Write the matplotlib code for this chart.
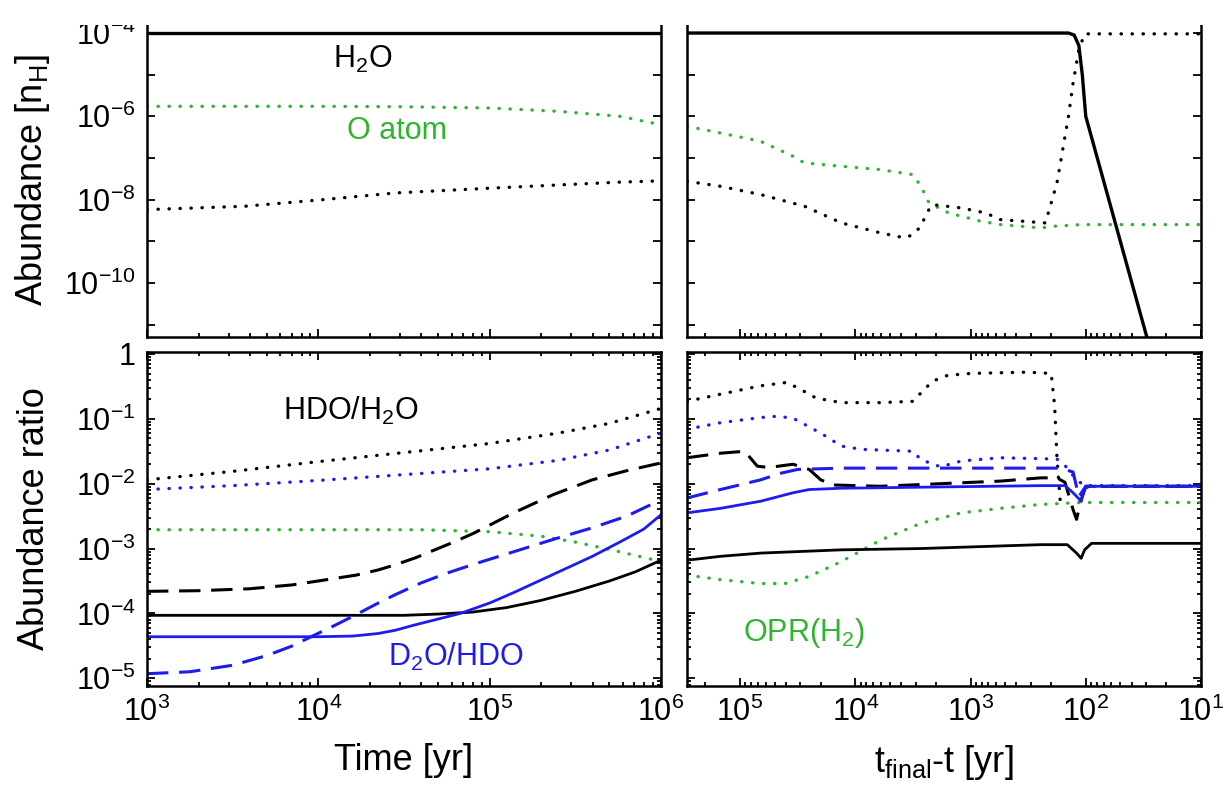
"""
Four-panel water deuteration plot: abundances (top) and abundance ratios
(bottom) versus time (left) and t_final - t (right).
"""

import numpy as np
import matplotlib
matplotlib.use('Agg')
import matplotlib.pyplot as plt
from matplotlib.patches import Rectangle
from matplotlib.ticker import LogLocator, NullFormatter, FixedLocator, FuncFormatter

plt.rcParams['font.family'] = ['Liberation Sans', 'DejaVu Sans']
plt.rcParams['mathtext.fontset'] = 'custom'
plt.rcParams['mathtext.rm'] = 'Liberation Sans'
plt.rcParams['mathtext.it'] = 'Liberation Sans:italic'
plt.rcParams['mathtext.default'] = 'regular'

# ============================================================
# Data (log10 values)
# ============================================================
# --- top left: abundance vs time ---
tl_h2o_x = [3.0, 6.0]
tl_h2o_y = [-4.0, -4.0]
tl_o_x = [3.0, 4.0, 4.5, 5.0, 5.4, 5.76, 6.0]
tl_o_y = [-5.76, -5.76, -5.77, -5.80, -5.88, -6.00, -6.20]
tl_hdo_x = [3.0, 3.57, 4.03, 4.45, 5.03, 5.76, 6.0]
tl_hdo_y = [-8.24, -8.16, -8.00, -7.84, -7.72, -7.58, -7.55]

# --- top right: abundance vs t_final - t ---
tr_h2o_x = [5.46, 2.15, 2.10, 2.06, 2.03, 2.00, 1.47, 1.40]
tr_h2o_y = [-4.0, -4.0, -4.05, -4.3, -5.0, -6.0, -11.3, -12.0]
tr_o_x = [5.46, 5.17, 4.82, 4.54, 4.44, 4.12, 3.78, 3.50, 3.43, 3.36,
          3.19, 2.91, 2.74, 2.39, 2.28, 2.04, 1.0]
tr_o_y = [-6.24, -6.40, -6.60, -6.96, -7.12, -7.20, -7.28, -7.40, -7.68,
          -8.08, -8.32, -8.52, -8.60, -8.68, -8.64, -8.60, -8.60]
tr_hdo_x = [5.46, 5.17, 4.82, 4.44, 4.12, 3.78, 3.57, 3.50, 3.43, 3.38,
            3.33, 3.08, 2.87, 2.74, 2.35, 2.25, 2.20, 2.15, 2.11, 2.06,
            2.01, 1.0]
tr_hdo_y = [-7.56, -7.68, -7.88, -8.16, -8.56, -8.80, -8.92, -8.84, -8.64,
            -8.32, -8.12, -8.20, -8.32, -8.48, -8.56, -7.60, -6.80, -6.00,
            -5.20, -4.40, -4.02, -4.02]

# --- bottom left: abundance ratios vs time ---
bl_hdo_h2o_gas_x = [3.0, 3.5, 4.0, 4.5, 5.0, 5.4, 5.7, 6.0]
bl_hdo_h2o_gas_y = [-1.94, -1.81, -1.66, -1.52, -1.38, -1.22, -1.07, -0.84]
bl_d2o_hdo_gas_x = [3.0, 3.5, 4.0, 4.5, 5.0, 5.4, 5.7, 6.0]
bl_d2o_hdo_gas_y = [-2.09, -2.03, -1.95, -1.86, -1.77, -1.64, -1.48, -1.22]
bl_opr_x = [3.0, 4.6, 5.0, 5.3, 5.5, 5.76, 6.0]
bl_opr_y = [-2.71, -2.71, -2.74, -2.81, -2.90, -3.05, -3.20]
bl_hdo_h2o_ice_x = [3.0, 3.3, 3.6, 3.85, 4.0, 4.22, 4.35, 4.45, 4.57, 4.68,
                    4.8, 4.91, 5.14, 5.37, 5.6, 5.8, 6.0]
bl_hdo_h2o_ice_y = [-3.66, -3.65, -3.62, -3.56, -3.50, -3.41, -3.33, -3.25,
                    -3.14, -3.02, -2.89, -2.76, -2.45, -2.17, -1.94, -1.80,
                    -1.68]
bl_hdo_h2o_dust_x = [3.0, 4.5, 4.7, 4.9, 5.1, 5.3, 5.5, 5.7, 5.85, 6.0]
bl_hdo_h2o_dust_y = [-4.03, -4.03, -4.01, -3.98, -3.91, -3.80, -3.66, -3.50,
                     -3.36, -3.18]
bl_d2o_hdo_dust_x = [3.0, 4.0, 4.2, 4.35, 4.45, 4.56, 4.68, 4.83, 5.0, 5.14,
                     5.37, 5.6, 5.76, 5.9, 6.0]
bl_d2o_hdo_dust_y = [-4.36, -4.36, -4.35, -4.31, -4.26, -4.18, -4.10, -4.00,
                     -3.84, -3.68, -3.40, -3.12, -2.90, -2.70, -2.48]
bl_d2o_hdo_ice_x = [3.0, 3.25, 3.5, 3.7, 3.85, 3.95, 4.1, 4.22, 4.35, 4.45,
                    4.6, 4.75, 4.91, 5.14, 5.37, 5.6, 5.8, 6.0]
bl_d2o_hdo_ice_y = [-4.93, -4.90, -4.80, -4.65, -4.50, -4.37, -4.18, -4.02,
                    -3.84, -3.71, -3.53, -3.38, -3.24, -3.05, -2.86, -2.68,
                    -2.50, -2.25]

# --- bottom right: abundance ratios vs t_final - t ---
br_hdo_h2o_gas_x = [5.46, 5.17, 4.82, 4.60, 4.50, 4.34, 4.12, 3.78, 3.50,
                    3.43, 3.33, 3.20, 3.00, 2.50, 2.30, 2.27, 2.25, 2.22]
br_hdo_h2o_gas_y = [-0.73, -0.62, -0.49, -0.44, -0.52, -0.68, -0.75, -0.75,
                    -0.73, -0.60, -0.42, -0.33, -0.30, -0.28, -0.30, -0.80,
                    -1.60, -2.30]
br_d2o_hdo_gas_x = [5.46, 5.17, 4.82, 4.68, 4.54, 4.30, 4.12, 3.95, 3.50,
                    3.43, 3.26, 3.08, 2.74, 2.25, 2.18, 2.08, 2.01, 1.0]
br_d2o_hdo_gas_y = [-1.16, -1.06, -0.98, -0.96, -0.99, -1.22, -1.42, -1.47,
                    -1.50, -1.63, -1.74, -1.65, -1.60, -1.62, -1.72, -1.94,
                    -2.03, -2.03]
br_hdo_h2o_ice_x = [5.46, 5.17, 4.96, 4.85, 4.75, 4.54, 4.40, 4.30, 4.19,
                    3.78, 2.74, 2.39, 2.25, 2.18, 2.11, 2.08, 2.04, 2.00, 1.0]
br_hdo_h2o_ice_y = [-1.60, -1.53, -1.50, -1.73, -1.75, -1.70, -1.78, -1.94,
                    -2.02, -2.04, -1.96, -1.91, -1.91, -1.98, -2.40, -2.55,
                    -2.25, -2.04, -2.04]
br_d2o_hdo_ice_x = [5.46, 5.17, 4.82, 4.65, 4.50, 4.12, 2.39, 2.22, 2.11,
                    2.06, 2.00, 1.0]
br_d2o_hdo_ice_y = [-2.22, -2.09, -1.94, -1.84, -1.78, -1.76, -1.76, -1.76,
                    -1.82, -2.20, -2.04, -2.04]
br_d2o_hdo_dust_x = [5.46, 5.17, 4.82, 4.54, 4.40, 4.12, 2.39, 2.18, 2.11,
                     2.04, 2.01, 1.97, 1.0]
br_d2o_hdo_dust_y = [-2.45, -2.38, -2.27, -2.14, -2.09, -2.07, -2.03, -2.03,
                     -2.14, -2.27, -2.08, -2.04, -2.04]
br_opr_x = [5.46, 5.17, 4.82, 4.61, 4.40, 4.12, 3.78, 3.43, 3.08, 2.74,
            2.39, 2.04, 1.0]
br_opr_y = [-3.41, -3.48, -3.54, -3.54, -3.43, -3.20, -2.87, -2.61, -2.45,
            -2.38, -2.32, -2.29, -2.29]
br_hdo_h2o_dust_x = [5.46, 5.17, 4.82, 4.12, 3.43, 2.39, 2.16, 2.08, 2.04,
                     2.01, 1.95, 1.0]
br_hdo_h2o_dust_y = [-3.18, -3.12, -3.07, -3.02, -3.00, -2.94, -2.94, -3.07,
                     -3.15, -3.02, -2.92, -2.92]

BLACK = 'black'
BLUE = '#1c1cf0'
GREEN = '#2db52d'

SOLID = dict(linestyle='-', linewidth=2.0, solid_joinstyle='round')
DASHED = dict(linestyle=(0, (7, 3.5)), linewidth=2.2)
DOTTED = dict(linestyle=(0, (0.1, 3.2)), linewidth=2.4,
              dash_capstyle='round')


def pl(ax, lx, ly, color, style):
    ax.plot(10 ** np.asarray(lx), 10 ** np.asarray(ly), color=color, **style)


def fmt_pow(v, pos=None):
    e = int(round(np.log10(v)))
    if e == 0:
        return '1'
    return r'$10^{%d}$' % e


def style_axes(ax):
    ax.set_xscale('log')
    ax.set_yscale('log')
    for sp in ax.spines.values():
        sp.set_linewidth(1.8)
    ax.tick_params(which='both', direction='in', top=True, right=True,
                   labelsize=22, width=1.3)
    ax.tick_params(which='major', length=6, pad=8)
    ax.tick_params(which='minor', length=3)
    ax.xaxis.set_major_locator(LogLocator(base=10, numticks=20))
    ax.xaxis.set_minor_locator(LogLocator(base=10, subs=np.arange(2, 10),
                                          numticks=20))
    ax.xaxis.set_major_formatter(FuncFormatter(fmt_pow))
    ax.xaxis.set_minor_formatter(NullFormatter())


def main():
    fig = plt.figure(figsize=(12.26, 7.86), dpi=100)
    ax_tl = fig.add_axes([0.1199, 0.5712, 0.4192, 0.3995])
    ax_tr = fig.add_axes([0.5604, 0.5712, 0.4192, 0.3995])
    ax_bl = fig.add_axes([0.1199, 0.1272, 0.4192, 0.4249])
    ax_br = fig.add_axes([0.5604, 0.1272, 0.4192, 0.4249])

    for ax in (ax_tl, ax_tr, ax_bl, ax_br):
        style_axes(ax)

    # ---- top left ----
    pl(ax_tl, tl_o_x, tl_o_y, GREEN, DOTTED)
    pl(ax_tl, tl_hdo_x, tl_hdo_y, BLACK, DOTTED)
    pl(ax_tl, tl_h2o_x, tl_h2o_y, BLACK, dict(SOLID, linewidth=2.4))

    # ---- top right ----
    pl(ax_tr, tr_o_x, tr_o_y, GREEN, DOTTED)
    pl(ax_tr, tr_hdo_x, tr_hdo_y, BLACK, DOTTED)
    pl(ax_tr, tr_h2o_x, tr_h2o_y, BLACK, dict(SOLID, linewidth=2.4))

    # ---- bottom left ----
    pl(ax_bl, bl_hdo_h2o_gas_x, bl_hdo_h2o_gas_y, BLACK, DOTTED)
    pl(ax_bl, bl_d2o_hdo_gas_x, bl_d2o_hdo_gas_y, BLUE, DOTTED)
    pl(ax_bl, bl_opr_x, bl_opr_y, GREEN, DOTTED)
    pl(ax_bl, bl_hdo_h2o_ice_x, bl_hdo_h2o_ice_y, BLACK, DASHED)
    pl(ax_bl, bl_hdo_h2o_dust_x, bl_hdo_h2o_dust_y, BLACK, SOLID)
    pl(ax_bl, bl_d2o_hdo_ice_x, bl_d2o_hdo_ice_y, BLUE, DASHED)
    pl(ax_bl, bl_d2o_hdo_dust_x, bl_d2o_hdo_dust_y, BLUE, SOLID)

    # ---- bottom right ----
    pl(ax_br, br_hdo_h2o_gas_x, br_hdo_h2o_gas_y, BLACK, DOTTED)
    pl(ax_br, br_d2o_hdo_gas_x, br_d2o_hdo_gas_y, BLUE, DOTTED)
    pl(ax_br, br_opr_x, br_opr_y, GREEN, DOTTED)
    pl(ax_br, br_hdo_h2o_ice_x, br_hdo_h2o_ice_y, BLACK, DASHED)
    pl(ax_br, br_d2o_hdo_ice_x, br_d2o_hdo_ice_y, BLUE, DASHED)
    pl(ax_br, br_hdo_h2o_dust_x, br_hdo_h2o_dust_y, BLACK, SOLID)
    pl(ax_br, br_d2o_hdo_dust_x, br_d2o_hdo_dust_y, BLUE, SOLID)

    # limits
    for ax in (ax_tl, ax_bl):
        ax.set_xlim(1e3, 1e6)
    for ax in (ax_tr, ax_br):
        ax.set_xlim(10 ** 5.46, 10)
    for ax in (ax_tl, ax_tr):
        ax.set_ylim(10 ** -11.3, 10 ** -3.76)
        ax.yaxis.set_major_locator(FixedLocator(10.0 ** np.arange(-11, -3)))
        ax.yaxis.set_minor_locator(FixedLocator([]))
        ax.yaxis.set_major_formatter(FuncFormatter(
            lambda v, p: fmt_pow(v) if int(round(np.log10(v))) % 2 == 0 else ''))
        ax.tick_params(axis='x', which='both', labelbottom=False, top=False)
    for ax in (ax_bl, ax_br):
        ax.set_ylim(10 ** -5.12, 10 ** 0.03)
        ax.yaxis.set_major_locator(LogLocator(base=10, numticks=20))
        ax.yaxis.set_minor_locator(LogLocator(base=10, subs=np.arange(2, 10),
                                              numticks=20))
        ax.yaxis.set_major_formatter(FuncFormatter(fmt_pow))
        ax.yaxis.set_minor_formatter(NullFormatter())
    for ax in (ax_tr, ax_br):
        ax.tick_params(axis='y', labelleft=False)

    # labels
    ax_tl.set_ylabel(r'Abundance [n$_{\rm H}$]', fontsize=26)
    ax_bl.set_ylabel('Abundance ratio', fontsize=26)
    ax_tl.yaxis.set_label_coords(-0.185, 0.5)
    ax_bl.yaxis.set_label_coords(-0.185, 0.5)
    ax_bl.set_xlabel('Time [yr]', fontsize=26)
    ax_br.set_xlabel(r't$_{\rm final}$-t [yr]', fontsize=26)
    ax_bl.xaxis.set_label_coords(0.5, -0.17)
    ax_br.xaxis.set_label_coords(0.5, -0.17)

    # annotations
    ax_tl.text(10 ** 4.26, 10 ** -4.64, r'H$_2$O', color=BLACK, fontsize=22,
               ha='center', va='center')
    ax_tl.text(10 ** 4.46, 10 ** -6.36, 'O atom', color=GREEN, fontsize=22,
               ha='center', va='center')
    ax_bl.text(10 ** 4.19, 10 ** -0.88, r'HDO/H$_2$O', color=BLACK,
               fontsize=22, ha='center', va='center')
    ax_bl.text(10 ** 4.80, 10 ** -4.67, r'D$_2$O/HDO', color=BLUE,
               fontsize=22, ha='center', va='center')
    ax_br.text(10 ** 4.45, 10 ** -4.31, r'OPR(H$_2$)', color=GREEN,
               fontsize=22, ha='center', va='center')

    # the original figure is trimmed just at the top frame edge
    fig.patches.append(Rectangle((0, 1 - 24.5 / 786), 1, 24.5 / 786,
                                 transform=fig.transFigure, facecolor='white',
                                 edgecolor='none', zorder=10))

    plt.savefig('out.png', dpi=100)
    plt.close()


if __name__ == "__main__":
    main()
